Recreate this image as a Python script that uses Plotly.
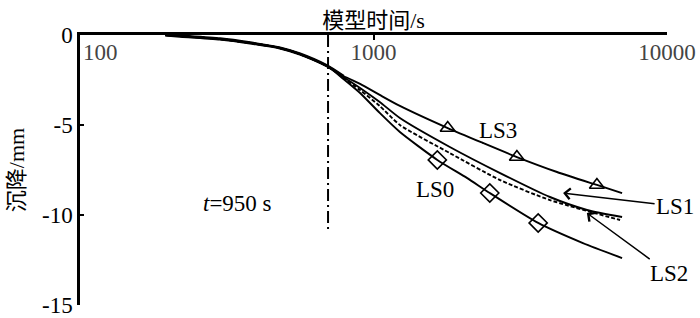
import plotly.graph_objects as go

# ---- data ----
trunk_x = [195, 219, 300, 380, 480, 562, 695]
trunk_y = [0, -0.06, -0.22, -0.44, -0.72, -1.06, -1.72]

ls3_x = [790, 900, 1050, 1230, 1790, 2360, 3080, 4220, 5770, 7030]
ls3_y = [-2.28, -2.72, -3.33, -3.94, -5.17, -6.0, -6.78, -7.61, -8.33, -8.78]

ls1_x = [790, 900, 1050, 1230, 1820, 2700, 3990, 5340, 7030]
ls1_y = [-2.33, -2.94, -3.72, -4.61, -6.22, -7.67, -9.0, -9.72, -10.11]

ls2_x = [790, 900, 1050, 1230, 1820, 2700, 3990, 6920]
ls2_y = [-2.39, -3.06, -3.94, -5.0, -6.56, -8.06, -9.17, -10.28]

ls0_x = [790, 900, 1050, 1230, 1650, 2080, 2490, 3640, 5170, 7030]
ls0_y = [-2.44, -3.22, -4.33, -5.39, -6.94, -7.94, -8.78, -10.44, -11.56, -12.39]

ls3_mark_x = [1790, 3080, 5770]
ls3_mark_y = [-5.17, -6.78, -8.33]
ls0_mark_x = [1650, 2490, 3640]
ls0_mark_y = [-6.94, -8.78, -10.44]

vline_x = [700, 700]
vline_y = [0, -10.8]

x_tickvals = [100, 1000, 10000]
x_ticktext = ["\u00a0" * 7 + "100", "1000", "10000"]
y_tickvals = [0, -5, -10, -15]
y_ticktext = ["0", "-5", "-10", "-15"]

FONT = "Liberation Serif, Times New Roman, Noto Sans CJK SC, serif"

fig = go.Figure()

# common early part (overlapping curves look thick)
fig.add_trace(go.Scatter(
    x=trunk_x + [790], y=trunk_y + [-2.3], mode="lines",
    line=dict(color="black", width=3.2, shape="spline", smoothing=0.6),
    hoverinfo="skip"))

def curve(xs, ys, dash="solid"):
    fig.add_trace(go.Scatter(
        x=trunk_x + xs, y=trunk_y + ys, mode="lines",
        line=dict(color="black", width=1.9, dash=dash, shape="spline", smoothing=0.6),
        hoverinfo="skip"))

curve(ls3_x, ls3_y)
curve(ls1_x, ls1_y)
curve(ls2_x, ls2_y, dash="4px,2px")
curve(ls0_x, ls0_y)

fig.add_trace(go.Scatter(x=ls3_mark_x, y=ls3_mark_y, mode="markers",
                         marker=dict(symbol="triangle-up-open", size=13, color="black",
                                     line=dict(width=1.6, color="black"))))
fig.add_trace(go.Scatter(x=ls0_mark_x, y=ls0_mark_y, mode="markers",
                         marker=dict(symbol="diamond-open", size=14, color="black",
                                     line=dict(width=1.6, color="black"))))

fig.add_trace(go.Scatter(x=vline_x, y=vline_y, mode="lines",
                         line=dict(color="black", width=2, dash="12px,4px,2px,4px")))

def px2paper(px, py):
    return (px - 80) / 587.0, (305 - py) / 270.0

annots = []
for text, (px, py) in [("LS3", (498, 130)), ("LS0", (435, 189)),
                       ("<i>t</i>=950 s", (237, 203))]:
    x, y = px2paper(px, py)
    annots.append(dict(text=text, x=x, y=y, xref="paper", yref="paper",
                       xanchor="center", yanchor="middle",
                       showarrow=False, font=dict(size=23, family=FONT, color="black")))

# arrows (tip in data coords, text offset in pixels)
annots.append(dict(text="LS1", x=3.646, y=-8.78, xref="x", yref="y",
                   ax=112, ay=13, showarrow=True, arrowhead=4, arrowsize=1.4,
                   arrowwidth=1.5, arrowcolor="black",
                   font=dict(size=23, family=FONT, color="black")))
annots.append(dict(text="LS2", x=3.727, y=-9.89, xref="x", yref="y",
                   ax=82, ay=60, showarrow=True, arrowhead=4, arrowsize=1.4,
                   arrowwidth=1.5, arrowcolor="black",
                   font=dict(size=23, family=FONT, color="black")))

fig.update_layout(
    width=700, height=318,
    margin=dict(l=80, r=33, t=35, b=13),
    plot_bgcolor="white", paper_bgcolor="white",
    showlegend=False,
    font=dict(family=FONT, size=23, color="black"),
    annotations=annots,
    xaxis=dict(type="log", range=[2, 4], side="top", automargin=False,
               showline=True, linecolor="black", linewidth=2.5,
               ticks="inside", ticklen=5, tickwidth=2, tickcolor="black",
               tickvals=x_tickvals, ticktext=x_ticktext,
               ticklabelposition="inside", ticklabeloverflow="allow",
               ticklabelstandoff=6,
               tickfont=dict(size=23, family=FONT),
               showgrid=False, zeroline=False,
               title=dict(text="模型时间/s", font=dict(size=22, family=FONT), standoff=6)),
    yaxis=dict(range=[-15, 0], automargin=False,
               showline=True, linecolor="black", linewidth=2.5,
               ticks="inside", ticklen=4, tickwidth=2, tickcolor="black",
               tickvals=y_tickvals, ticktext=y_ticktext,
               ticklabeloverflow="allow",
               tickfont=dict(size=23, family=FONT),
               showgrid=False, zeroline=False,
               title=dict(text="沉降/mm", font=dict(size=22, family=FONT), standoff=12)),
)

fig.write_html("out.html")
